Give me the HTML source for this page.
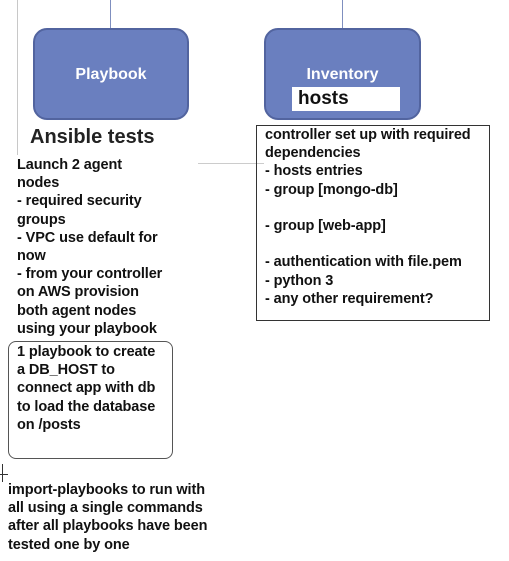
<!DOCTYPE html>
<html><head><style>
body{margin:0;width:509px;height:561px;background:#fff;position:relative;overflow:hidden;font-family:"Liberation Sans",Arial,sans-serif;font-weight:bold;color:#111}
.a{position:absolute}
.box{background:#6a7fbf;border:2px solid #52649f;border-radius:14px;box-sizing:border-box;color:#fff;text-align:center;font-size:16px}
.t{font-size:14.5px;line-height:18.2px;white-space:pre;letter-spacing:-0.1px}
</style></head><body>
<div class="a" style="left:110px;top:0;width:1px;height:28px;background:#7f8fbf"></div>
<div class="a" style="left:342px;top:0;width:1px;height:28px;background:#7f8fbf"></div>
<div class="a" style="left:17px;top:0;width:1px;height:155px;background:#c8c8c8"></div>
<div class="a" style="left:198px;top:163px;width:66px;height:1px;background:#ccc"></div>
<div class="a box" style="left:33px;top:28px;width:156px;height:92px;padding-top:36px">Playbook</div>
<div class="a box" style="left:264px;top:28px;width:157px;height:92px;padding-top:36px">Inventory</div>
<div class="a" style="left:292px;top:87px;width:108px;height:24px;background:#fff;color:#111;font-size:19px;line-height:24px;padding-left:6px;box-sizing:border-box">hosts</div>
<div class="a" style="left:30px;top:126px;font-size:20px;color:#222">Ansible tests</div>
<div class="a t" style="left:17px;top:156px">Launch 2 agent
nodes
- required security
groups
- VPC use default for
now
- from your controller
on AWS provision
both agent nodes
using your playbook</div>
<div class="a" style="left:256px;top:125px;width:234px;height:196px;border:1px solid #333;box-sizing:border-box"></div>
<div class="a t" style="left:265px;top:126px">controller set up with required
dependencies
- hosts entries
- group [mongo-db]

- group [web-app]

- authentication with file.pem
- python 3
- any other requirement?</div>
<div class="a" style="left:8px;top:341px;width:165px;height:118px;border:1px solid #555;border-radius:8px;box-sizing:border-box"></div>
<div class="a t" style="left:17px;top:343px">1 playbook to create
a DB_HOST to
connect app with db
to load the database
on /posts</div>
<div class="a" style="left:0;top:474px;width:8px;height:1px;background:#333"></div>
<div class="a" style="left:2px;top:464px;width:1px;height:18px;background:#333"></div>
<div class="a t" style="left:8px;top:481px">import-playbooks to run with
all using a single commands
after all playbooks have been
tested one by one</div>
</body></html>
